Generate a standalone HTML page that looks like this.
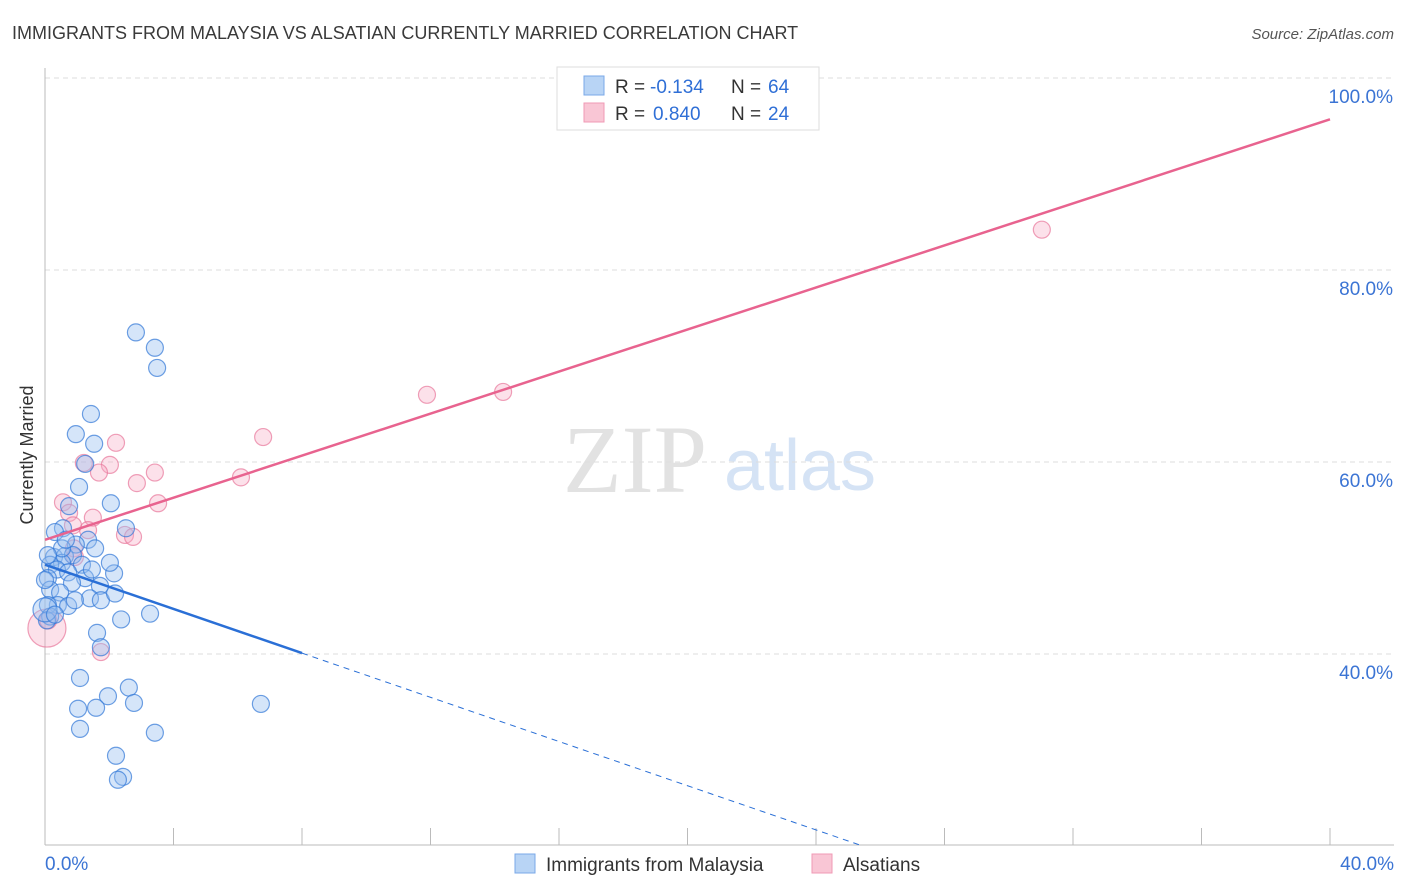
<!DOCTYPE html>
<html><head><meta charset="utf-8"><style>
body{margin:0;background:#fff;font-family:"Liberation Sans",sans-serif}
svg{display:block}
</style></head><body>
<svg id="chart" width="1406" height="892">
<text x="12" y="39" font-size="18" fill="#3a3a3a">IMMIGRANTS FROM MALAYSIA VS ALSATIAN CURRENTLY MARRIED CORRELATION CHART</text>
<text x="1394" y="39" font-size="15" fill="#555" font-style="italic" text-anchor="end">Source: ZipAtlas.com</text>
<text x="635" y="492" font-size="96" fill="#e2e2e2" font-family="Liberation Serif" text-anchor="middle">ZIP</text>
<text x="800" y="490" font-size="72" fill="#d5e3f5" text-anchor="middle">atlas</text>
<text transform="translate(33,455) rotate(-90)" font-size="18" fill="#333" text-anchor="middle">Currently Married</text>
<g id="grid"></g><g id="marks"></g>
<g>
<rect x="557" y="67" width="262" height="63" fill="#fff" stroke="#ddd"/>
<rect x="584" y="76" width="20" height="19" fill="#b8d4f5" stroke="#7aa8e8"/>
<rect x="584" y="103" width="20" height="19" fill="#f9c6d5" stroke="#f09ab5"/>
<text x="615" y="93" font-size="19" fill="#333">R =</text>
<text x="650" y="93" font-size="19" fill="#2f6fd6">-0.134</text>
<text x="731" y="93" font-size="19" fill="#333">N =</text>
<text x="768" y="93" font-size="19" fill="#2f6fd6">64</text>
<text x="615" y="120" font-size="19" fill="#333">R =</text>
<text x="653" y="120" font-size="19" fill="#2f6fd6">0.840</text>
<text x="731" y="120" font-size="19" fill="#333">N =</text>
<text x="768" y="120" font-size="19" fill="#2f6fd6">24</text>
</g>
<g>
<rect x="515" y="854" width="20" height="19" fill="#b8d4f5" stroke="#7aa8e8"/>
<text x="546" y="871" font-size="19" fill="#333">Immigrants from Malaysia</text>
<rect x="812" y="854" width="20" height="19" fill="#f9c6d5" stroke="#f09ab5"/>
<text x="843" y="871" font-size="19" fill="#333">Alsatians</text>
</g>
</svg>
<script>
const blueX=[2.83,3.42,3.49,1.43,0.96,1.53,1.25,1.06,2.05,0.75,2.52,0.56,0.31,1.34,0.96,1.56,0.28,0.62,0.87,0.53,1.15,0.16,0.37,0.72,0.09,1.25,2.15,0.84,1.71,0.16,0.47,1.40,1.74,2.18,0.40,0.72,0.09,3.27,2.37,0.16,0.06,1.62,1.74,1.09,1.96,2.61,1.03,1.59,2.77,1.09,3.42,2.21,2.43,2.27,6.72,0,0.31,0.53,0,0.93,2.02,0.09,0.65,1.46];
const blueY=[73.5,71.9,69.8,65.0,62.9,61.9,59.8,57.4,55.7,55.4,53.1,53.1,52.7,51.9,51.4,51.0,50.1,50.2,50.3,49.5,49.3,49.3,48.8,48.5,47.9,47.9,48.4,47.4,47.1,46.7,46.4,45.8,45.6,46.3,45.1,45.0,45.1,44.2,43.6,43.9,43.5,42.2,40.7,37.5,35.6,36.5,34.3,34.4,34.9,32.2,31.8,29.4,27.2,26.9,34.8,44.6,44.1,51.0,47.7,45.6,49.5,50.3,51.9,48.8];
const pinkX=[31.03,11.89,14.26,6.79,2.21,1.21,2.02,1.68,3.42,6.10,2.86,0.56,3.52,0.75,1.49,1.34,2.49,2.74,0.87,0.90,1.74,0.06,0.93,0.1];
const pinkY=[84.2,67.0,67.3,62.6,62.0,59.9,59.7,58.9,58.9,58.4,57.8,55.8,55.7,54.7,54.2,52.9,52.4,52.2,53.4,51.0,40.2,42.7,50.1,43.5];
const yTicks=[40,60,80,100];
const xTickVals=[0,4,8,12,16,20,24,28,32,36,40];
const blueFit=[49.3,-1.151], pinkFit=[51.9,1.095];
const NS="http://www.w3.org/2000/svg";
const sx=v=>45+v*32.125, sy=v=>78+(100-v)*9.6;
function el(t,a,p){const e=document.createElementNS(NS,t);for(const k in a)e.setAttribute(k,a[k]);p.appendChild(e);return e;}
const grid=document.getElementById('grid'),marks=document.getElementById('marks');
yTicks.forEach(v=>{
 const l=el('line',{x1:45,x2:1394,y1:sy(v),y2:sy(v),stroke:'#ddd','stroke-dasharray':'5,4'},grid);
 
 
 const t=el('text',{x:1393,y:sy(v)+25,'font-size':19,fill:'#3b74d4','text-anchor':'end'},grid);
 t.textContent=v.toFixed(1)+'%';
 
 
});
el('line',{x1:45,x2:45,y1:68,y2:845,stroke:'#bbb'},grid);
el('line',{x1:45,x2:1394,y1:845,y2:845,stroke:'#bbb'},grid);
xTickVals.forEach(v=>{const l=el('line',{x1:sx(v),x2:sx(v),y1:828,y2:845,stroke:'#bbb'},grid);
 
 });
[[0,'0.0%','start',45],[40,'40.0%','end',1394]].forEach(d=>{const t=el('text',{x:d[3],y:870,'font-size':19,fill:'#3b74d4','text-anchor':d[2]},grid);t.textContent=d[1];
 
 });
function dot(x,y,r,c,s,n){const e=el('circle',{cx:sx(x),cy:sy(y),r:r,fill:c,stroke:s,'stroke-width':1.2},marks);
 
 }
pinkX.forEach((x,i)=>dot(x,pinkY[i],i==21?19:8.5,'rgba(246,170,195,0.35)','rgba(232,120,155,0.7)','alsatian-point'));
blueX.forEach((x,i)=>dot(x,blueY[i],i==55?12:8.5,'rgba(150,190,240,0.4)','rgba(50,120,215,0.7)','malaysia-point'));
const pl=el('line',{x1:sx(0),y1:sy(pinkFit[0]),x2:sx(40),y2:sy(pinkFit[0]+40*pinkFit[1]),stroke:'#e8638f','stroke-width':2.5},marks);


const bl=el('line',{x1:sx(0),y1:sy(blueFit[0]),x2:sx(8),y2:sy(blueFit[0]+8*blueFit[1]),stroke:'#2a6fd6','stroke-width':2.5},marks);


const xe=(blueFit[0]-20.1)/-blueFit[1];
const bd=el('line',{x1:sx(8),y1:sy(blueFit[0]+8*blueFit[1]),x2:sx(xe),y2:sy(20.1),stroke:'#2a6fd6','stroke-width':1,'stroke-dasharray':'6,5'},marks);


</script>
</body></html>
